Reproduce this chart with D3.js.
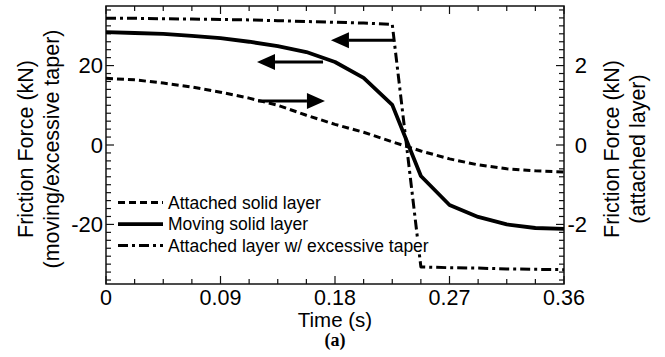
<!DOCTYPE html>
<html>
<head>
<meta charset="utf-8">
<script src="https://cdn.jsdelivr.net/npm/d3@7"></script>
<style>
  body { margin: 0; background: #fff; }
  svg { display: block; font-family: "Liberation Sans", Arial, sans-serif; }
</style>
</head>
<body>
<div id="chart"></div>
<script>
// Time steps (s)
const time = [0, 0.0225, 0.045, 0.0675, 0.09, 0.1125, 0.135, 0.1575, 0.18,
  0.2025, 0.225, 0.2475, 0.27, 0.2925, 0.315, 0.3375, 0.36];

// Friction force, left axis (kN)
const movingLayer = [28.4, 28.2, 28.0, 27.5, 26.9, 26.0, 24.9, 23.4, 20.9,
  16.9, 10.1, -7.8, -15.1, -18.1, -20.0, -20.9, -21.1];
const taperLayer = [31.9, 31.9, 31.8, 31.7, 31.6, 31.5, 31.3, 31.1, 30.9,
  30.7, 30.4, -30.7, -30.9, -31.0, -31.2, -31.3, -31.4];

// Friction force, right axis (kN)
const attachedLayer = [1.68, 1.64, 1.56, 1.46, 1.33, 1.18, 1.0, 0.75, 0.52,
  0.32, 0.08, -0.15, -0.35, -0.50, -0.60, -0.65, -0.68];

// Tick labels
const xTicks = [0, 0.09, 0.18, 0.27, 0.36];
const xTickLabels = ["0", "0.09", "0.18", "0.27", "0.36"];
const leftTicks = [-20, 0, 20];
const rightTicks = [-2, 0, 2];

// Arrows that point each curve at its axis (time from, time to, left-axis level)
const arrowFrom = [0.2256, 0.1706, 0.1195];
const arrowTo = [0.1768, 0.1187, 0.1721];
const arrowLevel = [26.4, 20.9, 11.1];

const legendNames = ["Attached solid layer", "Moving solid layer", "Attached layer w/ excessive taper"];

const width = 665, height = 357;
const margin = { top: 6, right: 101, bottom: 73, left: 106 };
const x0 = margin.left, x1 = width - margin.right;
const y0 = margin.top, y1 = height - margin.bottom;

const svg = d3.select("#chart").append("svg")
  .attr("width", width)
  .attr("height", height);

const x = d3.scaleLinear().domain([0, 0.36]).range([x0, x1]);
const yLeft = d3.scaleLinear().domain([-35, 35]).range([y1, y0]);
const yRight = d3.scaleLinear().domain([-3.5, 3.5]).range([y1, y0]);

// line styles
const styles = {
  attached: { dash: "7,4", width: 3 },
  moving: { dash: null, width: 3.8 },
  taper: { dash: "10,4,3,4", width: 3 }
};

// Ticks (all pointing inward)
const ticks = svg.append("g").attr("stroke", "#111").attr("stroke-width", 1.2);

time.forEach(t => {
  const major = xTicks.some(v => Math.abs(v - t) < 1e-6);
  const len = major ? 8 : 5;
  ticks.append("line").attr("x1", x(t)).attr("x2", x(t)).attr("y1", y1).attr("y2", y1 - len);
  ticks.append("line").attr("x1", x(t)).attr("x2", x(t)).attr("y1", y0).attr("y2", y0 + len);
});

d3.range(-34, 35, 2).forEach(v => {
  const major = v % 20 === 0;
  ticks.append("line").attr("x1", x0).attr("x2", x0 + (major ? 8 : 5))
    .attr("y1", yLeft(v)).attr("y2", yLeft(v));
});

d3.range(-34, 35, 2).forEach(v => {
  const val = v / 10;
  const major = v % 20 === 0;
  ticks.append("line").attr("x1", x1).attr("x2", x1 - (major ? 8 : 5))
    .attr("y1", yRight(val)).attr("y2", yRight(val));
});

// Frame
svg.append("rect")
  .attr("x", x0).attr("y", y0)
  .attr("width", x1 - x0).attr("height", y1 - y0)
  .attr("fill", "none").attr("stroke", "#111").attr("stroke-width", 1.5);

// Tick labels
svg.append("g").selectAll("text").data(xTicks).enter().append("text")
  .attr("x", d => x(d)).attr("y", y1 + 21)
  .attr("text-anchor", "middle").attr("font-size", 21.5)
  .text((d, i) => xTickLabels[i]);

svg.append("g").selectAll("text").data(leftTicks).enter().append("text")
  .attr("x", x0 - 3).attr("y", d => yLeft(d)).attr("dy", "0.36em")
  .attr("text-anchor", "end").attr("font-size", 22)
  .text(d => d);

svg.append("g").selectAll("text").data(rightTicks).enter().append("text")
  .attr("x", x1 + 23).attr("y", d => yRight(d)).attr("dy", "0.36em")
  .attr("text-anchor", "end").attr("font-size", 22)
  .text(d => d);

// Axis titles
svg.append("text").attr("x", (x0 + x1) / 2).attr("y", y1 + 43)
  .attr("text-anchor", "middle").attr("font-size", 20.5).text("Time (s)");

svg.append("text").attr("x", (x0 + x1) / 2).attr("y", y1 + 62)
  .attr("text-anchor", "middle").attr("font-size", 18).attr("font-weight", "bold")
  .attr("font-family", "'Liberation Serif', 'Times New Roman', serif").text("(a)");

const midY = (y0 + y1) / 2 + 4;
[["Friction Force (kN)", 33], ["(moving/excessive taper)", 59]].forEach(([t, bx]) => {
  svg.append("text").attr("transform", `translate(${bx},${midY}) rotate(-90)`)
    .attr("text-anchor", "middle").attr("font-size", 21.5).text(t);
});
[["Friction Force (kN)", 619], ["(attached layer)", 645]].forEach(([t, bx]) => {
  svg.append("text").attr("transform", `translate(${bx},${midY}) rotate(-90)`)
    .attr("text-anchor", "middle").attr("font-size", 21.5).text(t);
});

// Curves
const lineLeft = d3.line().x((d, i) => x(time[i])).y(d => yLeft(d));
const lineRight = d3.line().x((d, i) => x(time[i])).y(d => yRight(d));

const plot = svg.append("g");

function drawCurve(values, gen, style) {
  plot.append("path")
    .datum(values)
    .attr("d", gen)
    .attr("fill", "none")
    .attr("stroke", "#000")
    .attr("stroke-width", style.width)
    .attr("stroke-dasharray", style.dash)
    .attr("stroke-linejoin", "round");
}

drawCurve(attachedLayer, lineRight, styles.attached);
drawCurve(movingLayer, lineLeft, styles.moving);
drawCurve(taperLayer, lineLeft, styles.taper);

// Arrows
arrowFrom.forEach((from, i) => {
  const xa = x(from), xb = x(arrowTo[i]), ya = yLeft(arrowLevel[i]);
  const dir = xb > xa ? 1 : -1;
  const headLen = 18, headHalf = 8;
  plot.append("line")
    .attr("x1", xa).attr("x2", xb - dir * headLen)
    .attr("y1", ya).attr("y2", ya)
    .attr("stroke", "#000").attr("stroke-width", 3);
  plot.append("path")
    .attr("d", `M${xb},${ya} L${xb - dir * headLen},${ya - headHalf} L${xb - dir * headLen},${ya + headHalf} Z`)
    .attr("fill", "#000");
});

// Legend (opaque behind the text so the curves break there)
const legendKeys = ["attached", "moving", "taper"];
const legend = svg.append("g");
legendKeys.forEach((k, i) => {
  const ly = yLeft(-14.5) + i * 21.5;
  const bg = legend.append("rect").attr("fill", "#fff");
  legend.append("line")
    .attr("x1", x0 + 12).attr("x2", x0 + 57)
    .attr("y1", ly).attr("y2", ly)
    .attr("stroke", "#000")
    .attr("stroke-width", styles[k].width)
    .attr("stroke-dasharray", styles[k].dash);
  const label = legend.append("text")
    .attr("x", x0 + 62).attr("y", ly).attr("dy", "0.36em")
    .attr("font-size", 17.5).text(legendNames[i]);
  const box = label.node().getBBox();
  bg.attr("x", box.x).attr("y", box.y + 2)
    .attr("width", box.width + 2).attr("height", box.height - 4);
});
</script>
</body>
</html>
